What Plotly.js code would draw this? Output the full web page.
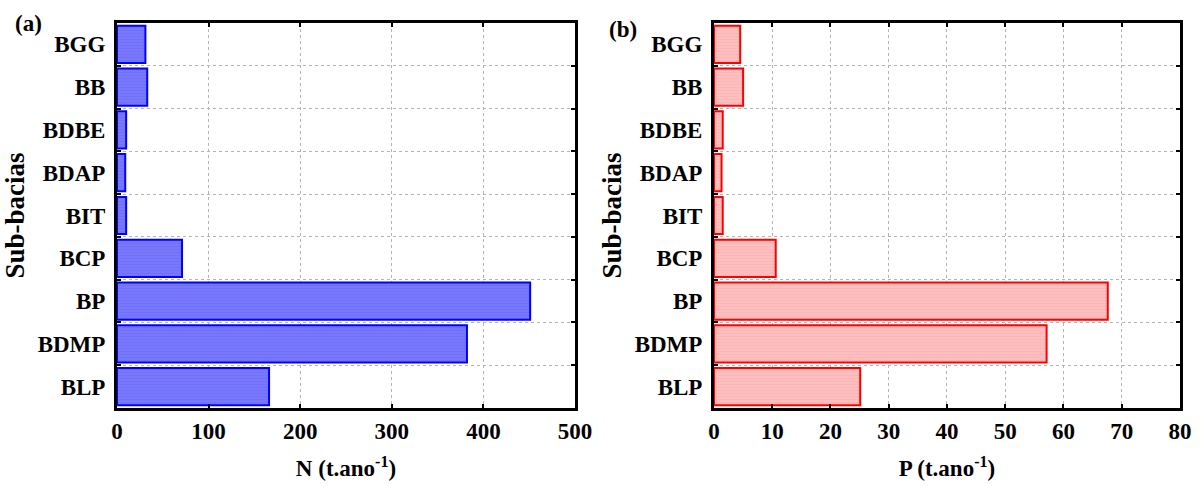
<!DOCTYPE html>
<html>
<head>
<meta charset="utf-8">
<script src="https://cdn.plot.ly/plotly-3.0.1.min.js"></script>
<style>html,body{margin:0;padding:0;background:#fff;}#chart{width:1204px;height:486px;}</style>
</head>
<body>
<div id="chart"></div>
<script>
// Data
const categories = ["BGG", "BB", "BDBE", "BDAP", "BIT", "BCP", "BP", "BDMP", "BLP"];
const nitrogen = [31, 33, 10, 9, 10, 71, 451, 382, 166];
const phosphorus = [4.5, 5.0, 1.5, 1.3, 1.5, 10.6, 67.6, 57.1, 25.1];
const xTitleN = "N (t.ano<sup>-1</sup>)";
const xTitleP = "P (t.ano<sup>-1</sup>)";
const yTitle = "Sub-bacias";
const panelLabels = ["(a)", "(b)"];

const FONT = "Liberation Serif";

const traces = [
  {
    type: "bar", orientation: "h", y: categories, x: nitrogen,
    xaxis: "x", yaxis: "y",
    marker: {color: "rgb(120,120,255)", line: {color: "#0000ff", width: 2},
      pattern: {shape: "-", fgcolor: "rgb(105,105,240)", size: 3, solidity: 0.35, fillmode: "overlay"}},
    width: 0.87, hoverinfo: "x+y"
  },
  {
    type: "bar", orientation: "h", y: categories, x: phosphorus,
    xaxis: "x2", yaxis: "y2",
    marker: {color: "rgb(255,190,190)", line: {color: "#ff0000", width: 2},
      pattern: {shape: "-", fgcolor: "rgb(245,175,175)", size: 3, solidity: 0.35, fillmode: "overlay"}},
    width: 0.87, hoverinfo: "x+y"
  }
];

const tickFont = {family: FONT, size: 23, color: "#000", weight: "bold"};
const titleFont = {family: FONT, size: 23, color: "#000", weight: "bold"};

function xAxis(domain, range, dtick, title, anchor) {
  return {
    domain: domain, range: range, dtick: dtick, anchor: anchor,
    showline: true, linecolor: "#000", linewidth: 3, mirror: "allticks",
    ticks: "inside", ticklen: 4, tickwidth: 2, tickcolor: "#000",
    showgrid: true, gridcolor: "#b4b4b4", griddash: "dot", gridwidth: 1,
    zeroline: false, tickfont: tickFont,
    title: {text: title, font: titleFont, standoff: 18}
  };
}
function yAxis(anchor) {
  return {
    anchor: anchor, type: "category", categoryorder: "array", categoryarray: categories,
    autorange: "reversed", tickson: "boundaries",
    showline: true, linecolor: "#000", linewidth: 3, mirror: "allticks",
    ticks: "inside", ticklen: 4, tickwidth: 2, tickcolor: "#000",
    showgrid: true, gridcolor: "#b4b4b4", griddash: "dot", gridwidth: 1,
    tickfont: tickFont, ticklabelstandoff: 4,
    title: {text: yTitle, font: {family: FONT, size: 27, color: "#000", weight: "bold"}, standoff: 6}
  };
}

const layout = {
  width: 1204, height: 486,
  margin: {l: 117, r: 24, t: 23, b: 78},
  paper_bgcolor: "#fff", plot_bgcolor: "#fff",
  showlegend: false, bargap: 0.13,
  font: {family: FONT, color: "#000"},
  xaxis: xAxis([0, 0.4309], [0, 500], 100, xTitleN, "y"),
  yaxis: yAxis("x"),
  xaxis2: xAxis([0.5616, 1], [0, 80], 10, xTitleP, "y2"),
  yaxis2: yAxis("x2"),
  annotations: [
    {text: panelLabels[0], xref: "paper", yref: "paper", x: -0.0837, y: 1.0, xanchor: "center", yanchor: "middle",
     showarrow: false, font: {family: FONT, size: 23, color: "#000", weight: "bold"}},
    {text: panelLabels[1], xref: "paper", yref: "paper", x: 0.476, y: 0.982, xanchor: "center", yanchor: "middle",
     showarrow: false, font: {family: FONT, size: 23, color: "#000", weight: "bold"}}
  ]
};

Plotly.newPlot("chart", traces, layout, {staticPlot: true, displayModeBar: false});
</script>
</body>
</html>
